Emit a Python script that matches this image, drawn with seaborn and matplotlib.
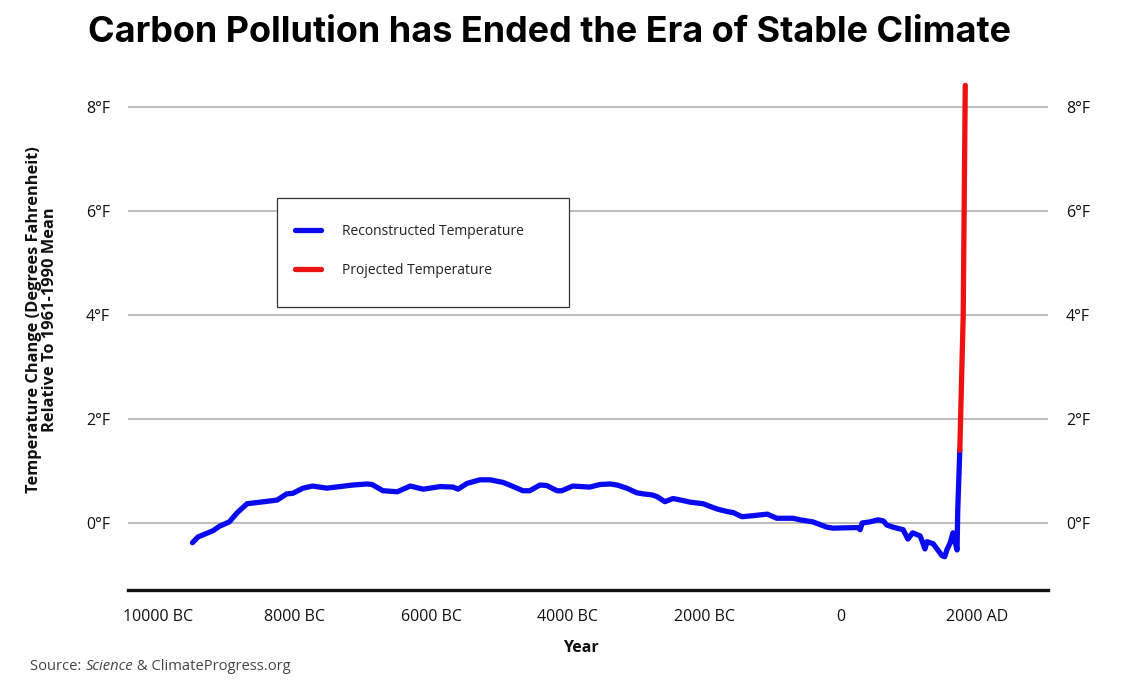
import pandas as pd
import seaborn as sns
import matplotlib.pyplot as plt
from matplotlib.patches import Rectangle

# reconstructed temperature (deg F vs 1961-1990 mean)
recon_years = [-9500, -9420, -9200, -9100, -8960, -8850, -8700, -8510, -8260, -8120,
               -8030, -7880, -7740, -7530, -7340, -7150, -6940, -6870, -6710, -6500,
               -6310, -6120, -5870, -5680, -5610, -5480, -5290, -5140, -4950, -4800,
               -4660, -4560, -4410, -4310, -4160, -4090, -3930, -3680, -3530, -3380,
               -3280, -3140, -2990, -2900, -2770, -2700, -2580, -2460, -2310, -2210,
               -2020, -1820, -1670, -1580, -1450, -1290, -1080, -940, -700, -600,
               -410, -210, -120, 180, 260, 280, 310, 420, 540, 620,
               670, 760, 910, 980, 1050, 1160, 1230, 1260, 1350, 1480,
               1520, 1550, 1600, 1640, 1670, 1700, 1710, 1740]
recon_temps = [-0.38, -0.27, -0.15, -0.06, 0.02, 0.19, 0.37, 0.40, 0.44, 0.56,
               0.57, 0.67, 0.71, 0.67, 0.70, 0.73, 0.75, 0.74, 0.62, 0.60,
               0.71, 0.65, 0.70, 0.69, 0.65, 0.76, 0.83, 0.83, 0.78, 0.70,
               0.62, 0.62, 0.73, 0.72, 0.62, 0.62, 0.71, 0.69, 0.74, 0.75,
               0.73, 0.67, 0.58, 0.56, 0.54, 0.51, 0.41, 0.47, 0.43, 0.40,
               0.37, 0.27, 0.22, 0.20, 0.12, 0.14, 0.17, 0.09, 0.09, 0.06,
               0.02, -0.08, -0.10, -0.09, -0.09, -0.13, 0.00, 0.02, 0.06, 0.04,
               -0.04, -0.08, -0.13, -0.31, -0.19, -0.25, -0.50, -0.36, -0.40, -0.63,
               -0.65, -0.52, -0.38, -0.19, -0.36, -0.52, 0.25, 1.40]

# projected temperature
proj_years = [1740, 1790, 1820]
proj_temps = [1.40, 4.00, 8.42]

series_names = ['Reconstructed Temperature', 'Projected Temperature']
series_colors = ['#0a0af0', '#ee1111']

x_ticks = [-10000, -8000, -6000, -4000, -2000, 0, 2000]
x_labels = ['10000 BC', '8000 BC', '6000 BC', '4000 BC', '2000 BC', '0', '2000 AD']
y_ticks = [0, 2, 4, 6, 8]
y_labels = ['0°F', '2°F', '4°F', '6°F', '8°F']

df = pd.concat([
    pd.DataFrame({'year': recon_years, 'temp': recon_temps, 'series': series_names[0]}),
    pd.DataFrame({'year': proj_years, 'temp': proj_temps, 'series': series_names[1]}),
], ignore_index=True)

sns.set_theme(style='white')
plt.rcParams['font.family'] = ['Open Sans', 'DejaVu Sans']

fig = plt.figure(figsize=(11.21, 6.88), dpi=100)
ax = fig.add_axes([128 / 1121, 98 / 688, 920 / 1121, 514 / 688])

sns.lineplot(data=df, x='year', y='temp', hue='series', hue_order=series_names,
             palette=series_colors, linewidth=3.8, estimator=None, sort=False, ax=ax)

ax.set_xlim(-10444, 3032)
ax.set_ylim(-1.29, 8.6)
ax.set_xticks(x_ticks)
ax.set_xticklabels(x_labels)
ax.set_yticks(y_ticks)
ax.set_yticklabels(y_labels)
ax.tick_params(axis='x', length=0, pad=14, labelsize=11.5, colors='#111111')
ax.tick_params(axis='y', length=0, pad=13, labelsize=11.5, colors='#111111',
               labelleft=True, labelright=True)
ax.grid(axis='y', color='#aaaaaa', linewidth=1.1)
ax.set_axisbelow(True)
ax.set_xlabel('')
ax.set_ylabel('')
for side in ['top', 'left', 'right']:
    ax.spines[side].set_visible(False)
ax.spines['bottom'].set_color('#111111')
ax.spines['bottom'].set_linewidth(2.4)

# legend box drawn separately so the inner padding can match
ax.add_patch(Rectangle((0.162, 0.550), 0.317, 0.212, transform=ax.transAxes,
                       facecolor='white', edgecolor='#333333', linewidth=0.9, zorder=4))
leg = ax.legend(loc='upper left', bbox_to_anchor=(0.1815, 0.712), frameon=False,
                fontsize=10, borderpad=0, labelspacing=1.72, handlelength=1.9,
                handletextpad=1.45, borderaxespad=0)
leg.set_zorder(5)
for line in leg.get_lines():
    line.set_linewidth(3.8)
for t in leg.get_texts():
    t.set_color('#222222')

fig.text(550 / 1121, 1 - 33 / 688, 'Carbon Pollution has Ended the Era of Stable Climate',
         ha='center', va='center', fontsize=25.9, fontweight='bold',
         family=['Inter', 'Roboto', 'DejaVu Sans'], color='#000000')

fig.text(42 / 1121, 1 - 320 / 688,
         'Temperature Change (Degrees Fahrenheit)\nRelative To 1961-1990 Mean',
         rotation=90, ha='center', va='center', multialignment='center',
         fontsize=11.8, fontweight='bold', linespacing=1.0, color='#111111')

fig.text(581 / 1121, 1 - 648 / 688, 'Year', ha='center', va='center',
         fontsize=11.5, fontweight='bold', color='#111111')

src1 = fig.text(30 / 1121, 1 - 667 / 688, 'Source: ', ha='left', va='center',
                fontsize=10.6, color='#444444')
src2 = ax.annotate('Science', xy=(1, 0), xycoords=src1, ha='left', va='bottom',
                   fontsize=10.6, style='italic', color='#444444')
ax.annotate(' & ClimateProgress.org', xy=(1, 0), xycoords=src2, ha='left', va='bottom',
            fontsize=10.6, color='#444444')

fig.savefig('out.png', dpi=100)
